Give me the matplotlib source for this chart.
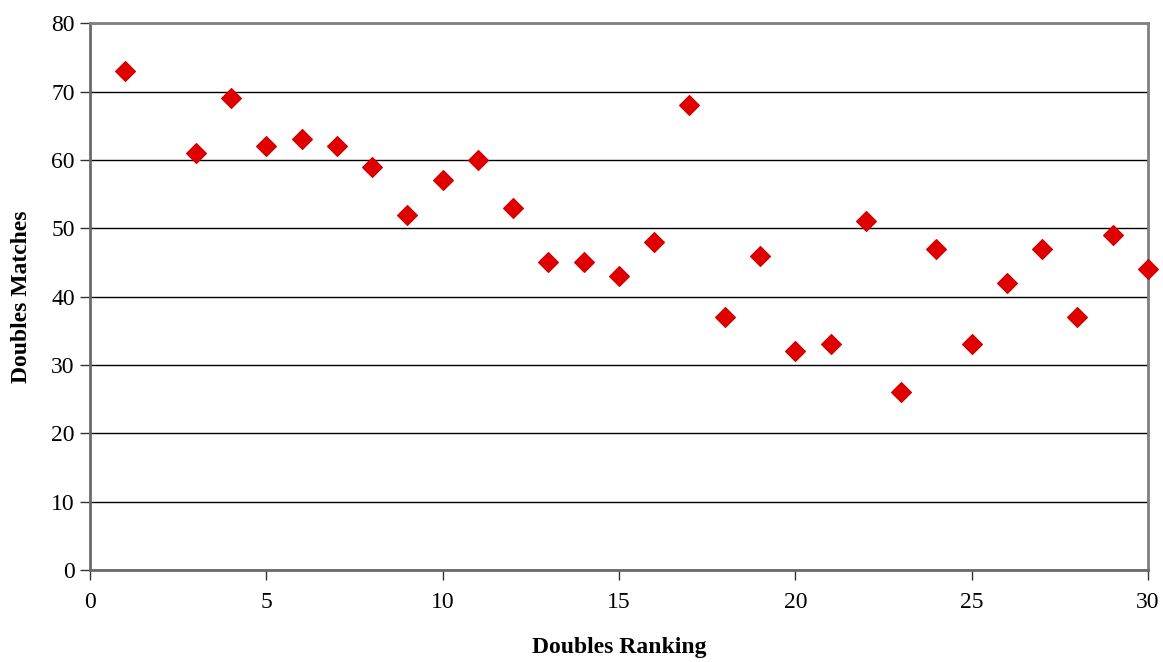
import matplotlib
matplotlib.use("Agg")
import matplotlib.pyplot as plt

ranking = [1, 3, 4, 5, 6, 7, 8, 9, 10, 11, 12, 13, 14, 15, 16, 17, 18, 19, 20,
           21, 22, 23, 24, 25, 26, 27, 28, 29, 30]
matches = [73, 61, 69, 62, 63, 62, 59, 52, 57, 60, 53, 45, 45, 43, 48, 68, 37, 46, 32,
           33, 51, 26, 47, 33, 42, 47, 37, 49, 44]

plt.rcParams['font.family'] = ['Liberation Serif', 'DejaVu Serif']

fig = plt.figure(figsize=(11.63, 6.62), dpi=100)
ax = fig.add_axes([0.0774, 0.139, 0.9096, 0.826])

ax.set_axisbelow(True)
ax.yaxis.grid(True, color='black', linewidth=1)
ax.plot(ranking, matches, linestyle='none', marker='D', markersize=10.5,
        markerfacecolor='#e00000', markeredgecolor='#c80000', markeredgewidth=0.8,
        clip_on=False, zorder=3)

ax.set_xlim(0, 30)
ax.set_ylim(0, 80)
ax.set_xticks(range(0, 31, 5))
ax.set_yticks(range(0, 81, 10))
ax.tick_params(axis='both', labelsize=17, direction='out', length=7, width=1, color='#333333')
ax.tick_params(axis='y', pad=4)
ax.tick_params(axis='x', pad=9)

for side in ['top', 'right']:
    ax.spines[side].set_color('#808080')
    ax.spines[side].set_linewidth(2)
for side in ['left', 'bottom']:
    ax.spines[side].set_color('#6a6a6a')
    ax.spines[side].set_linewidth(2)

ax.set_xlabel('Doubles Ranking', fontsize=17, fontweight='bold', labelpad=17)
ax.set_ylabel('Doubles Matches', fontsize=17, fontweight='bold', labelpad=14)

fig.savefig('out.png', dpi=100)
